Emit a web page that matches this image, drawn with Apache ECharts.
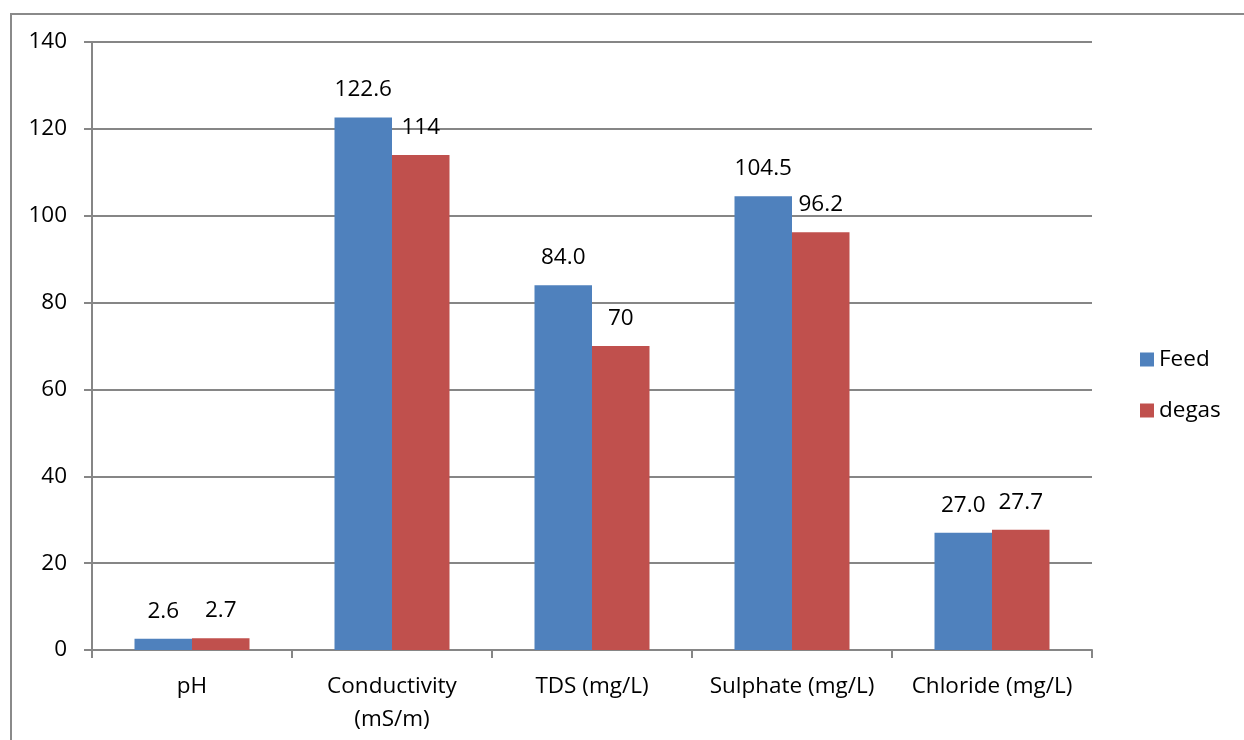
<!DOCTYPE html>
<html><head><meta charset="utf-8">
<script src="https://cdn.jsdelivr.net/npm/echarts@6/dist/echarts.min.js"></script>
<style>html,body{margin:0;padding:0;background:#fff;}#c{width:1244px;height:740px;}
#frame{position:absolute;left:10px;top:13px;width:1240px;height:740px;border:2px solid #8a8a8a;box-sizing:border-box;pointer-events:none;}</style>
</head><body><div id="c"></div><div id="frame"></div>
<script>
const categories = ['pH', 'Conductivity\n(mS/m)', 'TDS (mg/L)', 'Sulphate (mg/L)', 'Chloride (mg/L)'];
const feedValues = [2.6, 122.6, 84.0, 104.5, 27.0];
const degasValues = [2.7, 114, 70, 96.2, 27.7];
const feedLabels = ['2.6', '122.6', '84.0', '104.5', '27.0'];
const degasLabels = ['2.7', '114', '70', '96.2', '27.7'];
const yTicks = [0, 20, 40, 60, 80, 100, 120, 140];

const FONT = '"Open Sans", "Liberation Sans", sans-serif';
const FS = 22.5;
const chart = echarts.init(document.getElementById('c'));
chart.setOption({
  animation: false,
  textStyle: { fontFamily: FONT },
  grid: { left: 92, right: 152, top: 42, bottom: 90, containLabel: false },
  legend: {
    orient: 'vertical', left: 1135, top: 343,
    itemWidth: 14, itemHeight: 14, itemGap: 28,
    icon: 'rect',
    textStyle: { fontSize: FS, color: '#000', fontFamily: FONT },
    data: ['Feed', 'degas']
  },
  xAxis: {
    type: 'category', data: categories,
    axisLine: { lineStyle: { color: '#868686', width: 2 } },
    axisTick: { show: true, length: 8, lineStyle: { color: '#868686', width: 2 } },
    axisLabel: { fontSize: FS, color: '#000', margin: 20, lineHeight: 33, fontFamily: FONT, interval: 0 }
  },
  yAxis: {
    type: 'value', min: 0, max: 140, interval: 20,
    axisLine: { show: true, lineStyle: { color: '#868686', width: 2 } },
    axisTick: { show: true, length: 8, lineStyle: { color: '#868686', width: 2 } },
    splitLine: { lineStyle: { color: '#868686', width: 2 } },
    axisLabel: { fontSize: FS, color: '#000', margin: 25, fontFamily: FONT,
      formatter: v => yTicks.includes(v) ? String(v) : '' }
  },
  series: [
    { name: 'Feed', type: 'bar', data: feedValues, barGap: '0%', barCategoryGap: '42.5%',
      itemStyle: { color: '#4F81BD' },
      label: { show: true, position: 'top', distance: 16, fontSize: FS, color: '#000', fontFamily: FONT,
        formatter: p => feedLabels[p.dataIndex] } },
    { name: 'degas', type: 'bar', data: degasValues, barGap: '0%', barCategoryGap: '42.5%',
      itemStyle: { color: '#C0504D' },
      label: { show: true, position: 'top', distance: 16, fontSize: FS, color: '#000', fontFamily: FONT,
        formatter: p => degasLabels[p.dataIndex] } }
  ]
});
</script></body></html>
